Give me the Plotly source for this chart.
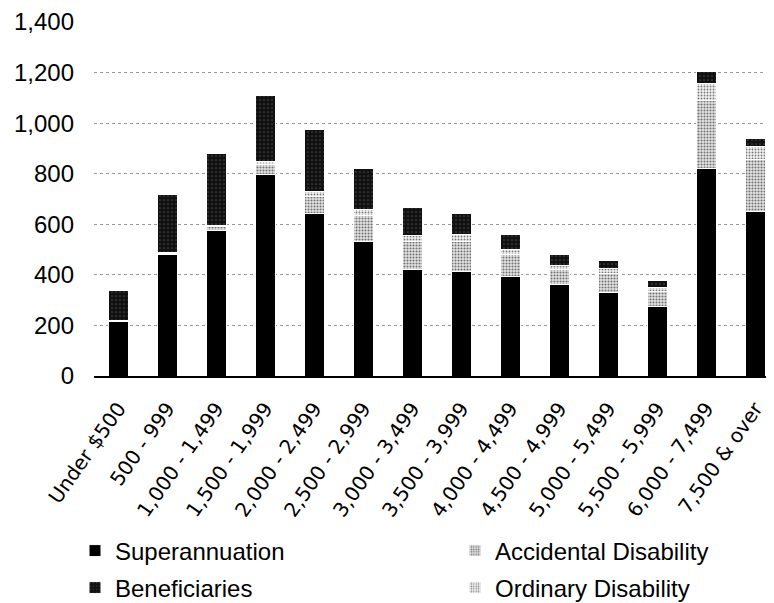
import plotly.graph_objects as go

categories = ["Under $500", "500 - 999", "1,000 - 1,499", "1,500 - 1,999", "2,000 - 2,499",
              "2,500 - 2,999", "3,000 - 3,499", "3,500 - 3,999", "4,000 - 4,499", "4,500 - 4,999",
              "5,000 - 5,499", "5,500 - 5,999", "6,000 - 7,499", "7,500 & over"]
superannuation = [215, 480, 575, 795, 643, 533, 420, 412, 392, 361, 329, 275, 820, 651]
accidental = [3, 5, 15, 42, 68, 100, 110, 120, 88, 62, 78, 59, 270, 205]
ordinary = [2, 3, 5, 13, 18, 26, 27, 29, 22, 16, 20, 15, 67, 50]
beneficiaries = [120, 230, 285, 260, 247, 161, 110, 82, 59, 43, 28, 27, 47, 35]
y_ticks = [0, 200, 400, 600, 800, 1000, 1200, 1400]

fig = go.Figure()
line = dict(color="white", width=1)
fig.add_bar(x=categories, y=superannuation, name="Superannuation", legend="legend2",
            marker=dict(color="black", line=line))
fig.add_bar(x=categories, y=accidental, name="Accidental Disability", legend="legend3",
            marker=dict(color="white", line=line,
                        pattern=dict(shape=".", fgcolor="black", bgcolor="#e6e6e6", size=3, solidity=0.4)))
fig.add_bar(x=categories, y=ordinary, name="Ordinary Disability", legend="legend5",
            marker=dict(color="white", line=line,
                        pattern=dict(shape=".", fgcolor="black", bgcolor="#f4f4f4", size=3, solidity=0.3)))
fig.add_bar(x=categories, y=beneficiaries, name="Beneficiaries", legend="legend4",
            marker=dict(color="#111111", line=line,
                        pattern=dict(shape=".", fgcolor="#777777", bgcolor="#111111", size=4, solidity=0.15)))

legend_common = dict(orientation="v", xanchor="left", yanchor="middle",
                     xref="container", yref="container",
                     font=dict(family="Liberation Sans, Arial", size=24, color="black"),
                     bgcolor="rgba(0,0,0,0)", itemclick=False)

W, H = 774, 603
col1, col2 = 67, 447
row1, row2 = 543, 580

fig.update_layout(
    width=W, height=H,
    margin=dict(l=86, r=12, t=14, b=235, autoexpand=False),
    paper_bgcolor="white", plot_bgcolor="white",
    barmode="stack", bargap=0.6,
    legend2=dict(x=col1 / W, y=1 - row1 / H, **legend_common),
    legend3=dict(x=col2 / W, y=1 - row1 / H, **legend_common),
    legend4=dict(x=col1 / W, y=1 - row2 / H, **legend_common),
    legend5=dict(x=col2 / W, y=1 - row2 / H, **legend_common),
    font=dict(family="Liberation Sans, Arial", color="black"),
)
fig.update_xaxes(range=[-0.5, 13.3], tickangle=-55, showline=True, linecolor="black", linewidth=1.5,
                 tickfont=dict(family="DejaVu Sans", size=20, color="black"), showgrid=False,
                 ticks="", automargin=False, ticklabelstandoff=11, ticklabeloverflow="allow")
fig.update_yaxes(range=[0, 1400], tickvals=y_ticks, tickformat=",", showgrid=True,
                 gridcolor="#999999", griddash="dot", gridwidth=1, zeroline=False,
                 tickfont=dict(family="Liberation Sans, Arial", size=24, color="black"),
                 ticklabelstandoff=19, automargin=False, ticklabeloverflow="allow")

fig.write_html("out.html")
